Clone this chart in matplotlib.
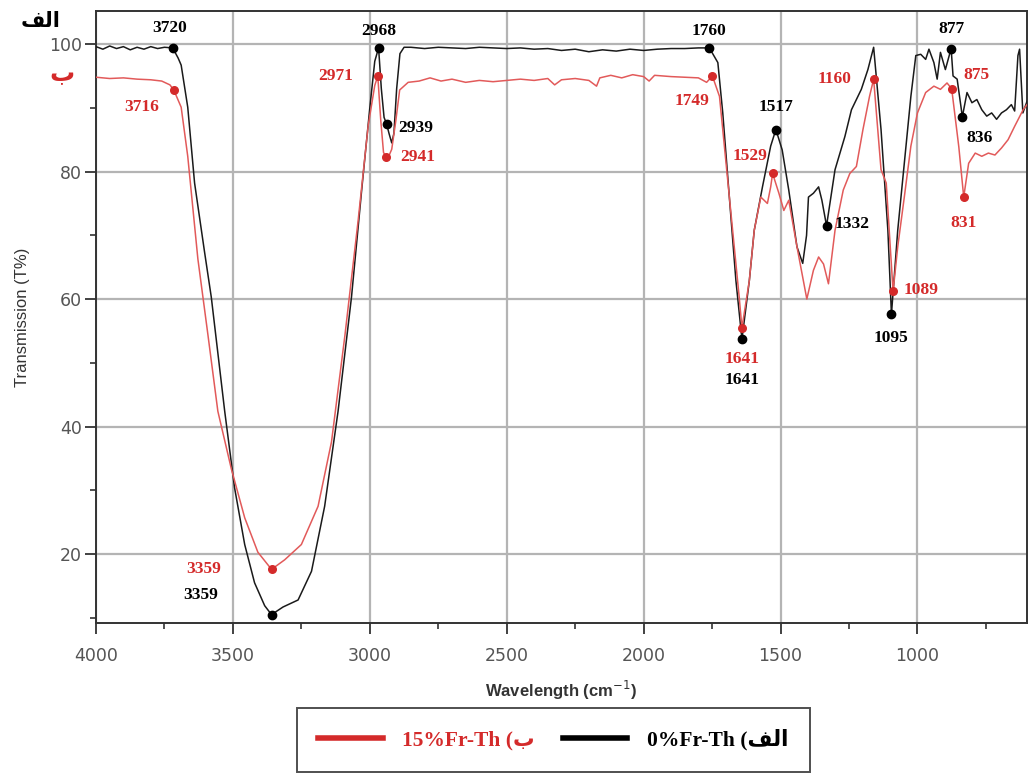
import matplotlib.pyplot as plt
from matplotlib.lines import Line2D

# FTIR spectra: 0%Fr-Th (black) and 15%Fr-Th (red)
wn_0 = [4000, 3975, 3950, 3925, 3900, 3875, 3850, 3825, 3800, 3775, 3750, 3720,
        3700, 3689, 3665, 3640, 3604, 3579, 3530, 3494, 3457, 3421, 3384, 3359,
        3317, 3262, 3213, 3165, 3116, 3067, 3030, 3000, 2982, 2968, 2958, 2948,
        2939, 2930, 2920, 2912, 2902, 2890, 2875, 2850, 2800, 2750, 2700, 2650,
        2600, 2550, 2500, 2450, 2400, 2350, 2300, 2250, 2200, 2150, 2100, 2050,
        2000, 1950, 1900, 1850, 1800, 1760, 1729, 1711, 1687, 1663, 1641, 1614,
        1596, 1566, 1536, 1517, 1494, 1470, 1440, 1419, 1405, 1398, 1380, 1361,
        1349, 1332, 1301, 1265, 1241, 1205, 1181, 1160, 1133, 1108, 1095, 1072,
        1048, 1024, 1006, 988, 970, 958, 940, 928, 916, 898, 877, 870, 855, 836,
        819, 801, 783, 765, 747, 729, 711, 693, 675, 657, 645, 633, 627, 615, 600]
t_0 = [99.6, 99.2, 99.7, 99.3, 99.6, 99.1, 99.5, 99.2, 99.6, 99.3, 99.5, 99.4,
       97.8, 96.7, 90.1, 78.2, 67.5, 60.3, 42.4, 30.4, 21.5, 15.5, 11.9, 10.5,
       11.7, 12.8, 17.3, 27.5, 42.4, 60.3, 77.0, 90.0, 97.3, 99.4, 93.0, 88.5,
       87.5, 86.0, 84.5, 86.0, 93.0, 98.5, 99.5, 99.5, 99.3, 99.5, 99.4, 99.3,
       99.5, 99.4, 99.3, 99.4, 99.2, 99.3, 99.0, 99.2, 98.8, 99.1, 98.9, 99.2,
       99.0, 99.2, 99.3, 99.3, 99.4, 99.4, 97.1, 89.2, 76.0, 62.9, 53.7, 62.9,
       70.8, 77.6, 84.0, 86.6, 83.4, 77.1, 68.2, 65.6, 70.0, 76.0, 76.6, 77.6,
       75.5, 71.5, 80.3, 85.5, 89.7, 92.9, 96.0, 99.5, 86.6, 70.8, 57.6, 70.8,
       81.3, 91.8, 98.2, 98.4, 97.6, 99.2, 97.1, 94.5, 98.7, 96.0, 99.3, 95.0,
       94.5, 88.6, 92.4, 90.8, 91.3, 89.7, 88.7, 89.2, 88.2, 89.2, 89.7, 90.5,
       89.5, 98.2, 99.2, 89.2, 91.0]

wn_15 = [4000, 3950, 3900, 3850, 3800, 3760, 3730, 3716, 3689, 3665, 3628, 3591,
         3555, 3506, 3457, 3409, 3359, 3311, 3250, 3189, 3140, 3091, 3043, 3006,
         2982, 2971, 2960, 2950, 2941, 2930, 2920, 2905, 2891, 2860, 2820, 2780,
         2740, 2700, 2650, 2600, 2550, 2500, 2450, 2400, 2350, 2325, 2300, 2250,
         2200, 2172, 2160, 2120, 2080, 2040, 2000, 1980, 1960, 1900, 1850, 1800,
         1770, 1749, 1723, 1699, 1675, 1651, 1641, 1614, 1596, 1572, 1548, 1536,
         1529, 1506, 1488, 1470, 1440, 1404, 1380, 1361, 1343, 1325, 1301, 1271,
         1247, 1223, 1199, 1175, 1160, 1133, 1114, 1089, 1072, 1048, 1024, 1000,
         970, 940, 916, 892, 875, 849, 831, 813, 789, 765, 741, 717, 693, 669,
         645, 614, 600]
t_15 = [94.8, 94.6, 94.7, 94.5, 94.4, 94.2, 93.6, 92.8, 90.1, 82.4, 66.3, 54.3,
        42.4, 33.4, 25.7, 20.3, 17.6, 19.1, 21.5, 27.5, 37.6, 54.3, 72.2, 87.2,
        93.5, 95.0, 88.0, 83.0, 82.3, 82.5, 83.5, 88.0, 92.8, 94.0, 94.2, 94.7,
        94.2, 94.5, 94.0, 94.3, 94.1, 94.3, 94.5, 94.3, 94.6, 93.6, 94.4, 94.6,
        94.3, 93.4, 94.7, 95.1, 94.7, 95.2, 94.9, 94.2, 95.1, 94.9, 94.8, 94.7,
        94.0, 95.0, 91.8, 81.3, 70.8, 60.3, 55.5, 62.9, 70.8, 76.0, 75.0, 77.6,
        79.7, 76.6, 73.9, 75.5, 68.2, 60.0, 64.5, 66.6, 65.5, 62.4, 70.8, 77.1,
        79.7, 80.8, 86.6, 91.8, 94.5, 80.3, 78.2, 61.2, 68.2, 76.0, 84.0, 89.2,
        92.4, 93.4, 92.9, 93.9, 93.0, 83.9, 76.0, 81.3, 82.9, 82.4, 82.9, 82.6,
        83.7, 85.0, 87.1, 89.7, 90.5]

# labelled peaks
peaks_0_x = [3720, 2968, 2939, 1760, 1641, 1517, 1332, 1095, 877, 836, 3359]
peaks_0_y = [99.4, 99.4, 87.5, 99.4, 53.7, 86.6, 71.5, 57.6, 99.3, 88.6, 10.5]
peaks_15_x = [3716, 2971, 2941, 1749, 1641, 1529, 1160, 1089, 875, 831, 3359]
peaks_15_y = [92.8, 95.0, 82.3, 95.0, 55.5, 79.7, 94.5, 61.2, 93.0, 76.0, 17.6]

legend_labels = ['15%Fr-Th (\u0628', '0%Fr-Th (\ufed2\ufedf\ufe8d']

RED = '#d42a2a'
RED_LINE = '#e25a5a'
BLACK = '#1a1a1a'

fig = plt.figure(figsize=(10.28, 7.81), dpi=100)
ax = fig.add_axes([0.0934, 0.2024, 0.9056, 0.7836])

ax.plot(wn_0, t_0, color=BLACK, lw=1.1, zorder=3)
ax.plot(wn_15, t_15, color=RED_LINE, lw=1.1, zorder=3)
ax.scatter(peaks_0_x, peaks_0_y, s=36, color='black', zorder=5)
ax.scatter(peaks_15_x, peaks_15_y, s=30, color=RED, zorder=5)

# label offsets in pixels (dx, dy, ha)
off_0 = [(-3, 20, 'center'), (0, 17, 'center'), (12, -4, 'left'), (0, 17, 'center'),
         (0, -41, 'center'), (0, 23, 'center'), (8, 2, 'left'), (0, -24, 'center'),
         (0, 20, 'center'), (17, -21, 'center'), (-71, 20, 'center')]
off_15 = [(-32, -17, 'center'), (-42, 0, 'center'), (14, 0, 'left'), (-20, -25, 'center'),
          (0, -31, 'center'), (-23, 17, 'center'), (-39, 0, 'center'), (10, 1, 'left'),
          (12, 14, 'left'), (0, -26, 'center'), (-68, 0, 'center')]
tfont = dict(family=['Liberation Serif', 'DejaVu Serif'], weight='bold', size=12.5)
for x, y, (dx, dy, ha) in zip(peaks_0_x, peaks_0_y, off_0):
    ax.annotate(str(x), (x, y), xytext=(dx, dy), textcoords='offset pixels',
                ha=ha, va='center', color='black', zorder=6, **tfont)
for x, y, (dx, dy, ha) in zip(peaks_15_x, peaks_15_y, off_15):
    ax.annotate(str(x), (x, y), xytext=(dx, dy), textcoords='offset pixels',
                ha=ha, va='center', color=RED, zorder=6, **tfont)

ax.set_xlim(4000, 600)
ax.set_ylim(9.2, 105.2)
ax.set_xticks([4000, 3500, 3000, 2500, 2000, 1500, 1000])
ax.set_xticks(range(3750, 600, -500), minor=True)
ax.set_yticks([20, 40, 60, 80, 100])
ax.set_yticks([10, 30, 50, 70, 90], minor=True)
ax.grid(True, which='major', color='#b4b4b4', lw=1.6, zorder=0)
ax.tick_params(which='major', direction='out', length=8, width=1.3, colors='#333333',
               labelsize=12.5, labelcolor='#555555')
ax.tick_params(axis='x', which='major', pad=9)
ax.tick_params(axis='y', which='major', pad=2)
ax.tick_params(which='minor', direction='out', length=4, width=1.2, colors='#333333')
for s in ax.spines.values():
    s.set_color('#333333')
    s.set_linewidth(1.4)

sfont = ['Liberation Sans', 'DejaVu Sans']
ax.set_xlabel('Wavelength (cm$^{-1}$)', fontsize=12, fontweight='bold',
              family=sfont, color='#333333', labelpad=10)
ax.set_ylabel('Transmission (T%)', fontsize=12, family=sfont, color='#333333', labelpad=14)

# curve tags at the top left
fig.text(0.039, 0.973, '\ufed2\ufedf\ufe8d', fontsize=15, weight='bold', color='black',
         ha='center', va='center', family=['DejaVu Sans'])
fig.text(0.06, 0.905, '\u0628', fontsize=18, weight='bold', color=RED,
         ha='center', va='center', family=['DejaVu Sans'])

# legend below the axes
handles = [Line2D([], [], color=RED, lw=4), Line2D([], [], color='black', lw=4)]
leg = fig.legend(handles, legend_labels, loc='center', bbox_to_anchor=(0.538, 0.0525),
                 ncol=2, frameon=True, fancybox=False, edgecolor='#222222',
                 handlelength=3.0, columnspacing=1.3, borderpad=1.0, handletextpad=0.9,
                 prop=dict(family=['Liberation Serif', 'DejaVu Sans'], weight='bold', size=15.5))
leg.get_frame().set_linewidth(1.4)
for txt, c in zip(leg.get_texts(), [RED, 'black']):
    txt.set_color(c)

fig.savefig('out.png', dpi=100)
